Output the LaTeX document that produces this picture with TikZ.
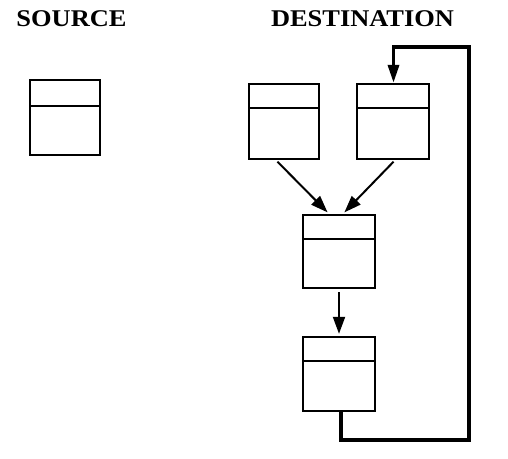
\documentclass[tikz,border=0pt]{standalone}
\usepackage{fontspec}
\setmainfont{Liberation Serif}
\usetikzlibrary{arrows.meta}
\newcommand{\widetitle}[1]{\scalebox{1.1}[1]{#1}}
\begin{document}
\begin{tikzpicture}[x=1pt,y=-1pt,
  rec/.style={draw,line width=2.4pt,inner sep=0pt,minimum width=#1},
  rec/.default=70pt,
  divider/.style={path picture={\draw[line width=2.4pt] ([yshift=-#1]path picture bounding box.north west) -- ([yshift=-#1]path picture bounding box.north east);}},
  conn/.style={line width=2pt,-{Triangle[length=17pt,width=12pt]}},
  loopline/.style={line width=3.4pt,-{Triangle[length=18pt,width=11pt]}},
  title/.style={font=\bfseries\fontsize{24}{28}\selectfont,inner sep=0pt,anchor=base}]
\useasboundingbox (0,0) rectangle (508,458);
\node[title] (src) at (71.5,26.5) {\widetitle{SOURCE}};
\node[title] (dst) at (362.5,26.5) {\widetitle{DESTINATION}};
\node[rec=70pt,minimum height=75pt,divider=26pt] (S) at (65,117.5) {};
\node[rec=70pt,minimum height=75pt,divider=24pt] (D1) at (284,121.5) {};
\node[rec=72pt,minimum height=75pt,divider=24pt] (D2) at (393,121.5) {};
\node[rec=72pt,minimum height=73pt,divider=24pt] (M) at (339,251.5) {};
\node[rec=72pt,minimum height=74pt,divider=24pt] (B) at (339,374) {};
\coordinate (cR) at (469,440);
\coordinate (cT) at (469,47);
\draw[conn,shorten <=2pt,shorten >=2pt] ([xshift=-8pt]D1.south) -- ([xshift=-10pt]M.north);
\draw[conn,shorten <=2pt,shorten >=2pt] ([xshift=2pt]D2.south) -- ([xshift=4pt]M.north);
\draw[conn,shorten <=3pt,shorten >=2pt] (M.south) -- (B.north);
\draw[loopline] ([xshift=2pt]B.south) |- (cR) -- (cT) -| ([xshift=0.5pt]D2.north);
\end{tikzpicture}
\end{document}
